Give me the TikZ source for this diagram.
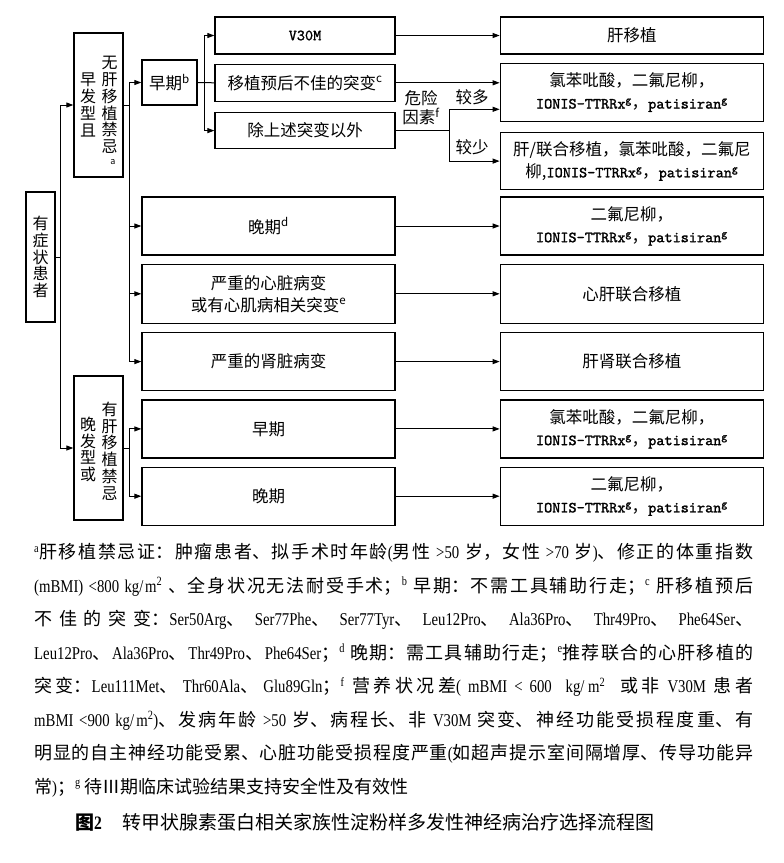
\documentclass[tikz,border=0pt]{standalone}
\usepackage{fontspec}
\setmainfont{Noto Sans CJK SC}
\newfontfamily\tmsfont[FakeStretch=0.82]{Liberation Serif}
\newfontfamily\mnfont[FakeBold=1.4]{lmmono10-regular.otf}
\usetikzlibrary{arrows.meta,positioning,calc}
\XeTeXlinebreaklocale "zh"
\XeTeXlinebreakskip=0pt plus 2pt minus 0.3pt
\newcommand{\mn}[1]{{\mnfont\fontsize{15.5}{22}\selectfont #1}}
\newcommand{\lat}[1]{{\tmsfont #1}}
\newcommand{\sups}[1]{\textsuperscript{#1}}
\newcommand{\fnm}[1]{\textsuperscript{\tmsfont #1}}
\newcommand{\dn}{、\hskip 0pt plus 3pt\relax}

\begin{document}
\begin{tikzpicture}[
    x=1pt, y=-1pt,
    box/.style={draw, line width=1.3pt, inner sep=2pt, align=center, font=\fontsize{16.5}{22}\selectfont},
    midbox/.style={box, minimum width=253pt, minimum height=58pt},
    resbox/.style={box, minimum width=263pt, minimum height=58pt},
    tallbox/.style={draw, line width=1.3pt, minimum width=49pt, minimum height=144pt},
    vtext/.style={align=center, inner sep=0pt, font=\fontsize{16}{16.8}\selectfont},
    note/.style={inner sep=0pt, align=center, font=\fontsize{16.5}{19}\selectfont},
    arrow/.style={-{Triangle[length=7pt,width=5pt]}, line width=1pt},
    line/.style={line width=1pt},
    node distance=8pt and 104pt
]
\useasboundingbox (0,0) rectangle (784,863);

\node[box, vtext, draw, line width=1.3pt, minimum width=29pt, minimum height=130pt] (pat) at (40.5,257) {有\\症\\状\\患\\者};

\node[tallbox] (early) at (98.5,105) {};
\node[vtext] (earlyR) at ($(early.center)+(11,0)$) {无\\肝\\移\\植\\禁\\忌};
\node[vtext] (earlyL) at ($(early.center)+(-10.5,0)$) {早\\发\\型\\且};
\node[inner sep=0pt, font=\fontsize{9}{9}\selectfont] (supa) at (113,162) {a};
\node[tallbox] (late) at (98.5,448) {};
\node[vtext] (lateR) at ($(late.center)+(11,3)$) {有\\肝\\移\\植\\禁\\忌};
\node[vtext] (lateL) at ($(late.center)+(-10.5,1.5)$) {晚\\发\\型\\或};

\node[box, minimum width=55pt, minimum height=45pt] (e1) at (169.5,82.5) {早期\sups{b}};
\node[box, minimum width=180pt, minimum height=37pt] (v30) at (305,35.5) {\mn{V30M}};
\node[box, minimum width=180pt, minimum height=37pt, below=9pt of v30] (badmut) {移植预后不佳的突变\sups{c}};
\node[box, minimum width=180pt, minimum height=36pt, below=10pt of badmut] (other) {除上述突变以外};

\node[midbox] (lt) at (268.5,226) {晚期\sups{d}};
\node[midbox, minimum height=59pt, below=of lt] (heart) {严重的心脏病变\\或有心肌病相关突变\sups{e}};
\node[midbox, below=of heart] (kidney) {严重的肾脏病变};
\node[midbox, below=of kidney] (e2) {早期};
\node[midbox, below=of e2] (l2) {晚期};

\node[resbox, minimum height=37pt, right=of v30] (r1) {肝移植};
\node[resbox, below=of r1] (r2) {氯苯吡酸，二氟尼柳，\\\mn{IONIS-TTRRx\sups{g}}，\mn{patisiran\sups{g}}};
\node[resbox, minimum height=57pt, below=10pt of r2] (r3) {肝/联合移植，氯苯吡酸，二氟尼\\柳,\mn{IONIS-TTRRx\sups{g}}，\mn{patisiran\sups{g}}};
\node[resbox, right=of lt] (r4) {二氟尼柳，\\\mn{IONIS-TTRRx\sups{g}}，\mn{patisiran\sups{g}}};
\node[resbox, minimum height=59pt, right=of heart] (r5) {心肝联合移植};
\node[resbox, right=of kidney] (r6) {肝肾联合移植};
\node[resbox, right=of e2] (r7) {氯苯吡酸，二氟尼柳，\\\mn{IONIS-TTRRx\sups{g}}，\mn{patisiran\sups{g}}};
\node[resbox, right=of l2] (r8) {二氟尼柳，\\\mn{IONIS-TTRRx\sups{g}}，\mn{patisiran\sups{g}}};

\node[note] (risk) at (421,108) {危险\\因素\sups{f}};
\node[note] (more) at (472,97) {较多};
\node[note] (less) at (472,147) {较少};

\coordinate (jp) at ($(pat.east)+(5,0)$);
\draw[line] (pat.east) -- (jp);
\draw[arrow] (jp) |- (early.west);
\draw[arrow] (jp) |- (late.west);

\coordinate (je) at ($(early.east)+(6,0)$);
\draw[line] (early.east) -- (je);
\foreach \t in {e1,lt,heart,kidney}
    \draw[arrow] (je) |- (\t.west);
\coordinate (jl) at ($(late.east)+(6,0)$);
\draw[line] (late.east) -- (jl);
\draw[arrow] (jl) |- (e2.west);
\draw[arrow] (jl) |- (l2.west);

\coordinate (jm) at ($(e1.east)+(7,0)$);
\draw[line] (e1.east) -- (badmut.west);
\draw[arrow] (jm) |- (v30.west);
\draw[arrow] (jm) |- (other.west);

\draw[arrow] (v30.east) -- (r1.west);
\draw[arrow] (badmut.east) -- (badmut.east -| r2.west);
\coordinate (jr) at ($(other.east)+(54,0)$);
\draw[line] (other.east) -- (jr);
\draw[arrow] (jr) |- ($(r2.west)+(0,17)$);
\draw[arrow] (jr) |- (r3.west);

\foreach \a/\b in {lt/r4,heart/r5,kidney/r6,e2/r7,l2/r8}
    \draw[arrow] (\a.east) -- (\b.west);

\node[anchor=north west, inner sep=0pt, text width=719pt, align=justify, font=\fontsize{18}{33.5}\selectfont] (foot) at (34,543) {%
\parfillskip=0pt \tolerance=10000
\fnm{a}肝移植禁忌证：肿瘤患者、拟手术时年龄\lat{(}男性 \lat{>50} 岁，女性 \lat{>70} 岁\lat{)}、修正的体重指数\par
\lat{(mBMI) <800 kg/m\textsuperscript{2}} 、全身状况无法耐受手术；\fnm{b} 早期：不需工具辅助行走；\fnm{c} 肝移植预后\par
不佳的突变：\lat{Ser50Arg}\dn\lat{Ser77Phe}\dn\lat{Ser77Tyr}\dn\lat{Leu12Pro}\dn\lat{Ala36Pro}\dn\lat{Thr49Pro}\dn\lat{Phe64Ser}\dn\par
\lat{Leu12Pro}\dn\lat{Ala36Pro}\dn\lat{Thr49Pro}\dn\lat{Phe64Ser}；\fnm{d} 晚期：需工具辅助行走；\fnm{e}推荐联合的心肝移植的\par
突变：\lat{Leu111Met}\dn\lat{Thr60Ala}\dn\lat{Glu89Gln}；\fnm{f} 营养状况差\lat{( mBMI < 600 \ kg/m\textsuperscript{2}} \ 或非 \lat{V30M} 患者\par
\lat{mBMI <900 kg/m\textsuperscript{2})}、发病年龄 \lat{>50} 岁、病程长、非 \lat{V30M} 突变、神经功能受损程度重、有\par
明显的自主神经功能受累、心脏功能受损程度严重\lat{(}如超声提示室间隔增厚、传导功能异\par
\parfillskip=0pt plus 1fil 常\lat{)}；\fnm{g} 待Ⅲ期临床试验结果支持安全性及有效性};

\node[anchor=west, inner sep=0pt, font=\fontsize{19}{22}\selectfont] (cap) at (75,822) {{\bfseries 图}{\tmsfont\bfseries 2}\hspace{1.1em}转甲状腺素蛋白相关家族性淀粉样多发性神经病治疗选择流程图};
\end{tikzpicture}
\end{document}
